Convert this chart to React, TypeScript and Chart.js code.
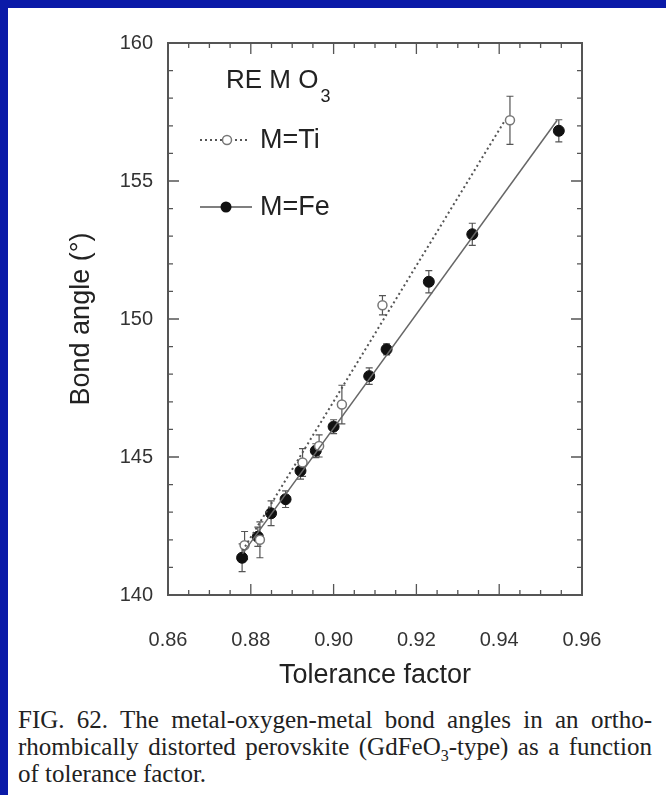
import React, { useEffect, useRef } from 'react';
import { Chart, registerables } from 'chart.js';
Chart.register(...registerables);

// ---- data ----
const xTicks = [0.86, 0.88, 0.9, 0.92, 0.94, 0.96];
const yTicks = [140, 145, 150, 155, 160];

// M = Fe (filled circles)
const feX = [0.8779, 0.8817, 0.8849, 0.8884, 0.892, 0.8957, 0.9, 0.9086, 0.9128, 0.923, 0.9335, 0.9544];
const feY = [141.35, 142.11, 142.96, 143.47, 144.5, 145.23, 146.1, 147.93, 148.9, 151.35, 153.07, 156.82];
const feErr = [0.5, 0.35, 0.45, 0.3, 0.3, 0.25, 0.25, 0.3, 0.2, 0.4, 0.4, 0.4];

// M = Ti (open circles)
const tiX = [0.8785, 0.8822, 0.8925, 0.8965, 0.902, 0.9118, 0.9426];
const tiY = [141.8, 142.0, 144.8, 145.4, 146.9, 150.5, 157.2];
const tiErr = [0.5, 0.65, 0.5, 0.4, 0.7, 0.35, 0.87];

// fitted straight lines (end points)
const feFitX = [0.878, 0.954];
const feFitY = [141.5, 157.2];
const tiFitX = [0.878, 0.9414];
const tiFitY = [141.6, 157.2];

const SANS = '"Liberation Sans", Arial, Helvetica, sans-serif';
const SERIF = '"Liberation Serif", "Times New Roman", Times, serif';

const pts = (xs: number[], ys: number[]) => xs.map((x, i) => ({ x, y: ys[i] }));

export default function App() {
  const ref = useRef<HTMLCanvasElement>(null);

  useEffect(() => {
    const canvas = ref.current;
    if (!canvas) return;

    const errPlugin = {
      id: 'errbars',
      beforeDatasetsDraw(chart: any) {
        const { ctx, scales } = chart;
        const sx = scales.x, sy = scales.y;
        ctx.save();
        ctx.strokeStyle = '#555';
        ctx.lineWidth = 1.2;
        const draw = (xs: number[], ys: number[], es: number[]) => {
          xs.forEach((xv, i) => {
            const px = sx.getPixelForValue(xv);
            const p1 = sy.getPixelForValue(ys[i] - es[i]);
            const p2 = sy.getPixelForValue(ys[i] + es[i]);
            ctx.beginPath();
            ctx.moveTo(px, p1); ctx.lineTo(px, p2);
            ctx.moveTo(px - 3.5, p1); ctx.lineTo(px + 3.5, p1);
            ctx.moveTo(px - 3.5, p2); ctx.lineTo(px + 3.5, p2);
            ctx.stroke();
          });
        };
        draw(tiX, tiY, tiErr);
        draw(feX, feY, feErr);
        ctx.restore();
      },
    };

    const framePlugin = {
      id: 'frame',
      afterDraw(chart: any) {
        const { ctx, chartArea: a, scales } = chart;
        const sx = scales.x, sy = scales.y;
        ctx.save();
        ctx.strokeStyle = '#555';
        ctx.lineWidth = 2;
        ctx.strokeRect(a.left, a.top, a.right - a.left, a.bottom - a.top);
        ctx.lineWidth = 1.3;
        ctx.beginPath();
        for (let i = 0; i <= 20; i++) {
          const v = 0.86 + i * 0.005;
          const px = sx.getPixelForValue(v);
          const len = i % 4 === 0 ? 11 : 5;
          ctx.moveTo(px, a.bottom); ctx.lineTo(px, a.bottom - len);
          ctx.moveTo(px, a.top); ctx.lineTo(px, a.top + len);
        }
        for (let i = 0; i <= 20; i++) {
          const v = 140 + i;
          const py = sy.getPixelForValue(v);
          const len = i % 5 === 0 ? 11 : 5;
          ctx.moveTo(a.left, py); ctx.lineTo(a.left + len, py);
          ctx.moveTo(a.right, py); ctx.lineTo(a.right - len, py);
        }
        ctx.stroke();

        // legend
        ctx.fillStyle = '#222';
        ctx.textBaseline = 'alphabetic';
        ctx.textAlign = 'left';
        ctx.font = `26px ${SANS}`;
        const t = 'RE M O';
        ctx.fillText(t, 226, 88);
        const w = ctx.measureText(t).width;
        ctx.font = `18px ${SANS}`;
        ctx.fillText('3', 226 + w + 2, 102);

        // Ti legend
        ctx.strokeStyle = '#555';
        ctx.lineWidth = 2;
        ctx.setLineDash([2, 3]);
        ctx.beginPath();
        ctx.moveTo(200, 140); ctx.lineTo(250, 140);
        ctx.stroke();
        ctx.setLineDash([]);
        ctx.fillStyle = '#fff';
        ctx.strokeStyle = '#777';
        ctx.lineWidth = 1.5;
        ctx.beginPath();
        ctx.arc(227, 140, 4.5, 0, Math.PI * 2);
        ctx.fill();
        ctx.stroke();

        // Fe legend
        ctx.strokeStyle = '#555';
        ctx.lineWidth = 1.5;
        ctx.beginPath();
        ctx.moveTo(200, 207); ctx.lineTo(252, 207);
        ctx.stroke();
        ctx.fillStyle = '#111';
        ctx.beginPath();
        ctx.arc(226, 207, 5.5, 0, Math.PI * 2);
        ctx.fill();

        ctx.fillStyle = '#222';
        ctx.font = `27px ${SANS}`;
        ctx.textBaseline = 'middle';
        ctx.fillText('M=Ti', 260, 141);
        ctx.fillText('M=Fe', 260, 208);
        ctx.restore();
      },
    };

    const chart = new Chart(canvas, {
      type: 'scatter',
      data: {
        datasets: [
          {
            label: 'Fe fit',
            data: pts(feFitX, feFitY),
            showLine: true,
            borderColor: '#666',
            borderWidth: 1.5,
            pointRadius: 0,
          },
          {
            label: 'Ti fit',
            data: pts(tiFitX, tiFitY),
            showLine: true,
            borderColor: '#555',
            borderWidth: 2,
            borderDash: [2, 3],
            pointRadius: 0,
          },
          {
            label: 'M=Ti',
            data: pts(tiX, tiY),
            pointRadius: 4.5,
            pointBackgroundColor: '#fff',
            pointBorderColor: '#777',
            pointBorderWidth: 1.5,
          },
          {
            label: 'M=Fe',
            data: pts(feX, feY),
            pointRadius: 5.5,
            pointBackgroundColor: '#111',
            pointBorderColor: '#111',
            pointBorderWidth: 1,
          },
        ],
      } as any,
      options: {
        responsive: false,
        animation: false,
        events: [],
        layout: { padding: { left: 0, top: 43, right: 84, bottom: 0 } },
        plugins: { legend: { display: false }, tooltip: { enabled: false } },
        scales: {
          x: {
            type: 'linear',
            min: 0.86,
            max: 0.96,
            afterBuildTicks: (s: any) => { s.ticks = xTicks.map((v) => ({ value: v })); },
            afterFit: (s: any) => { s.height = 105; s.paddingLeft = 0; s.paddingRight = 0; },
            grid: { display: false, drawTicks: false },
            border: { display: false },
            ticks: {
              padding: 33,
              color: '#333',
              font: { family: SANS, size: 20 },
              maxRotation: 0,
              autoSkip: false,
              callback: (v: any) => Number(v).toFixed(2),
            },
            title: {
              display: true,
              text: 'Tolerance factor',
              color: '#222',
              font: { family: SANS, size: 27 },
              padding: { top: 0, bottom: 8 },
            },
          },
          y: {
            type: 'linear',
            min: 140,
            max: 160,
            afterBuildTicks: (s: any) => { s.ticks = yTicks.map((v) => ({ value: v })); },
            afterFit: (s: any) => { s.width = 168; s.paddingTop = 0; s.paddingBottom = 0; },
            grid: { display: false, drawTicks: false },
            border: { display: false },
            ticks: {
              padding: 15,
              color: '#333',
              font: { family: SANS, size: 20 },
              autoSkip: false,
              callback: (v: any) => String(v),
            },
            title: {
              display: true,
              text: 'Bond angle (°)',
              color: '#222',
              font: { family: SANS, size: 27 },
              padding: { top: 65, bottom: 0 },
            },
          },
        },
      } as any,
      plugins: [errPlugin, framePlugin],
    });
    return () => chart.destroy();
  }, []);

  const justLine: React.CSSProperties = {
    textAlign: 'justify',
    textAlignLast: 'justify' as any,
    height: 27,
    whiteSpace: 'nowrap',
  };

  return (
    <div style={{ position: 'absolute', left: 0, top: 0, width: 666, height: 795, background: '#0a1aa8', overflow: 'hidden' }}>
      <div style={{ position: 'absolute', left: 8, top: 8, right: 0, bottom: 0, background: '#fff' }} />
      <canvas ref={ref} width={666} height={700} style={{ position: 'absolute', left: 0, top: 0, width: 666, height: 700 }} />
      <div style={{ position: 'absolute', left: 18, top: 706, width: 634, fontFamily: SERIF, fontSize: 25, lineHeight: '27px', color: '#222' }}>
        <div style={{ ...justLine, whiteSpace: 'normal' }}>FIG. 62. The metal-oxygen-metal bond angles in an ortho-</div>
        <div style={{ ...justLine, whiteSpace: 'normal' }}>rhombically distorted perovskite (GdFeO<sub style={{ fontSize: 16, lineHeight: 0 }}>3</sub>-type) as a function</div>
        <div style={{ height: 27, whiteSpace: 'nowrap' }}>of tolerance factor.</div>
      </div>
    </div>
  );
}
